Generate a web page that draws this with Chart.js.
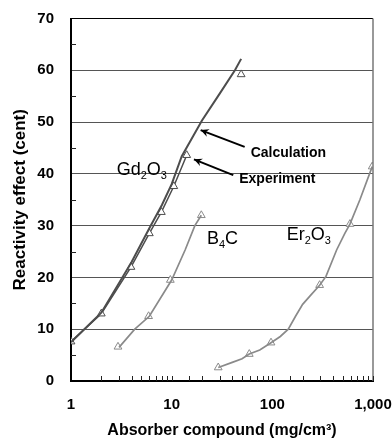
<!DOCTYPE html>
<html><head><meta charset="utf-8">
<script src="https://cdn.jsdelivr.net/npm/chart.js@4.4.0/dist/chart.umd.min.js"></script>
<style>html,body{margin:0;padding:0;background:#fff;}#wrap{width:392px;height:440px;}</style>
</head><body><div id="wrap"><canvas id="c" width="392" height="440"></canvas></div>
<script>
// ---- data ----
const gdCalcX = [1, 2, 4, 6, 8, 10, 12.6, 15, 20, 30, 42.5, 49];
const gdCalcY = [7.5, 13.2, 23, 29.5, 34, 38, 43.4, 46, 50.3, 55.5, 60, 62.2];
const gdExpX = [1, 2, 3.94, 6, 7.9, 10.5, 14.1];
const gdExpY = [7.6, 13, 22, 28.5, 32.6, 37.6, 43.6];
const gdExtraX = [49];
const gdExtraY = [59.2];
const b4cCalcX = [3, 4.3, 6, 10, 13.6, 17, 19.7];
const b4cCalcY = [6.5, 10, 12.5, 19.5, 25.3, 30, 32];
const b4cExpX = [2.93, 5.9, 9.7, 19.7];
const b4cExpY = [6.6, 12.5, 19.5, 32];
const erCalcX = [29, 40, 50, 59, 75, 97, 120, 144, 170, 200, 236, 295, 341, 435, 525, 590, 741, 982];
const erCalcY = [2.6, 3.6, 4.3, 5.2, 6, 7.4, 8.6, 10, 12.5, 14.8, 16.4, 18.5, 20.2, 25.3, 28.5, 30.3, 35, 41.4];
const erExpX = [29, 59, 97, 295, 590, 982];
const erExpY = [2.6, 5.2, 7.4, 18.5, 30.3, 41.4];
const yTicks = [0, 10, 20, 30, 40, 50, 60, 70];
const yMinorTicks = [5, 15, 25, 35, 45, 55, 65];
const xTitle = 'Absorber compound (mg/cm\u00B3)';
const yTitle = 'Reactivity effect (cent)';
// compound labels: [parts], x, y (data coords, baseline)
const compoundLabels = [
  {parts: [['Gd', 0], ['2', 1], ['O', 0], ['3', 1]], x: 2.84, y: 39.7},
  {parts: [['B', 0], ['4', 1], ['C', 0]], x: 22.4, y: 26.4},
  {parts: [['Er', 0], ['2', 1], ['O', 0], ['3', 1]], x: 138.7, y: 27.2}
];
const arrowLabels = [
  {text: 'Calculation', x: 60.9, y: 43.2, tipX: 19.41, tipY: 48.45, tailX: 53.1, tailY: 45.2},
  {text: 'Experiment', x: 46.9, y: 38.3, tipX: 16.65, tipY: 42.8, tailX: 40.9, tailY: 39.75}
];

const pts = (xs, ys) => xs.map((x, i) => ({x: x, y: ys[i]}));
const DARK = '#4d4d4d', LIGHT = '#8a8a8a';

const decor = {
  id: 'decor',
  afterDatasetsDraw(chart) {
    const ctx = chart.ctx, xs = chart.scales.x, ys = chart.scales.y, a = chart.chartArea;
    ctx.save();
    // right frame
    ctx.strokeStyle = '#777'; ctx.lineWidth = 1.5;
    ctx.beginPath(); ctx.moveTo(a.right, a.top); ctx.lineTo(a.right, a.bottom); ctx.stroke();
    // inward minor ticks
    ctx.strokeStyle = '#222'; ctx.lineWidth = 1;
    xs.ticks.forEach(t => {
      if (t.value <= 1) return;
      const px = Math.round(xs.getPixelForValue(t.value)) + 0.5;
      ctx.beginPath(); ctx.moveTo(px, a.bottom); ctx.lineTo(px, a.bottom - 5); ctx.stroke();
    });
    yMinorTicks.forEach(v => {
      const py = Math.round(ys.getPixelForValue(v)) + 0.5;
      ctx.beginPath(); ctx.moveTo(a.left, py); ctx.lineTo(a.left + 5, py); ctx.stroke();
    });
    // compound labels
    ctx.fillStyle = '#000'; ctx.textBaseline = 'alphabetic'; ctx.textAlign = 'left';
    compoundLabels.forEach(l => {
      let px = xs.getPixelForValue(l.x);
      const py = ys.getPixelForValue(l.y);
      l.parts.forEach(([s, sub]) => {
        ctx.font = sub ? '11px "Liberation Sans", Arial, sans-serif' : '18px "Liberation Sans", Arial, sans-serif';
        ctx.fillText(s, px, py + (sub ? 4 : 0));
        px += ctx.measureText(s).width;
      });
    });
    // arrow labels
    ctx.font = 'bold 14px "Liberation Sans", Arial, sans-serif';
    arrowLabels.forEach(l => {
      ctx.fillText(l.text, xs.getPixelForValue(l.x), ys.getPixelForValue(l.y));
      const tx = xs.getPixelForValue(l.tipX), ty = ys.getPixelForValue(l.tipY);
      const sx = xs.getPixelForValue(l.tailX), sy = ys.getPixelForValue(l.tailY);
      ctx.strokeStyle = '#000'; ctx.lineWidth = 2;
      ctx.beginPath(); ctx.moveTo(sx, sy); ctx.lineTo(tx, ty); ctx.stroke();
      const ang = Math.atan2(sy - ty, sx - tx), len = 9, spread = 0.45;
      ctx.fillStyle = '#000';
      ctx.beginPath();
      ctx.moveTo(tx, ty);
      ctx.lineTo(tx + len * Math.cos(ang + spread), ty + len * Math.sin(ang + spread));
      ctx.lineTo(tx + len * 0.6 * Math.cos(ang), ty + len * 0.6 * Math.sin(ang));
      ctx.lineTo(tx + len * Math.cos(ang - spread), ty + len * Math.sin(ang - spread));
      ctx.closePath(); ctx.fill();
    });
    ctx.restore();
  }
};

const markerDs = (data, color) => ({
  data: data, showLine: false, pointStyle: 'triangle', pointRadius: 4.5,
  pointBackgroundColor: '#fff', pointBorderColor: color, pointBorderWidth: 1
});

new Chart(document.getElementById('c'), {
  type: 'scatter',
  data: {
    datasets: [
      {data: pts(gdCalcX, gdCalcY), showLine: true, borderColor: DARK, borderWidth: 2, pointRadius: 0, tension: 0},
      {data: pts(b4cCalcX, b4cCalcY), showLine: true, borderColor: LIGHT, borderWidth: 1.7, pointRadius: 0, tension: 0},
      {data: pts(erCalcX, erCalcY), showLine: true, borderColor: LIGHT, borderWidth: 1.7, pointRadius: 0, tension: 0},
      Object.assign(markerDs(pts(gdExpX, gdExpY), DARK), {showLine: true, borderColor: DARK, borderWidth: 1.5}),
      markerDs(pts(gdExtraX, gdExtraY), DARK),
      markerDs(pts(b4cExpX, b4cExpY), LIGHT),
      markerDs(pts(erExpX, erExpY), LIGHT)
    ]
  },
  options: {
    responsive: false, animation: false, devicePixelRatio: 1,
    layout: {padding: {top: 18.5, right: 19, bottom: 0, left: 0}},
    plugins: {legend: {display: false}, tooltip: {enabled: false}},
    scales: {
      x: {
        type: 'logarithmic', min: 1, max: 1000,
        afterFit: s => { s.height = 59; s.paddingLeft = 0; s.paddingRight = 0; },
        grid: {drawOnChartArea: false, drawTicks: false},
        border: {color: '#000', width: 2},
        ticks: {
          autoSkip: false, maxRotation: 0, padding: 15, color: '#000',
          font: {family: '"Liberation Sans", Arial, sans-serif', size: 15, weight: 'bold'},
          callback: v => { const l = Math.log10(v); return Math.abs(l - Math.round(l)) < 1e-9 ? Number(v).toLocaleString('en-US') : ''; }
        },
        title: {display: true, text: xTitle, color: '#000', padding: {top: 0, bottom: 0},
          font: {family: '"Liberation Sans", Arial, sans-serif', size: 16, weight: 'bold'}}
      },
      y: {
        min: 0, max: 70,
        afterFit: s => { s.width = 71; s.paddingTop = 0; s.paddingBottom = 0; },
        afterBuildTicks: s => { s.ticks = yTicks.map(v => ({value: v})); },
        grid: {drawTicks: false, lineWidth: 1,
          color: c => c.tick && c.tick.value === 70 ? '#000' : (c.tick && c.tick.value === 0 ? 'rgba(0,0,0,0)' : '#555')},
        border: {color: '#000', width: 2},
        ticks: {padding: 17, color: '#000',
          font: {family: '"Liberation Sans", Arial, sans-serif', size: 15, weight: 'bold'}},
        title: {display: true, text: yTitle, color: '#000', padding: {top: 10, bottom: 0},
          font: {family: '"Liberation Sans", Arial, sans-serif', size: 17, weight: 'bold'}}
      }
    }
  },
  plugins: [decor]
});
</script>
</body></html>
